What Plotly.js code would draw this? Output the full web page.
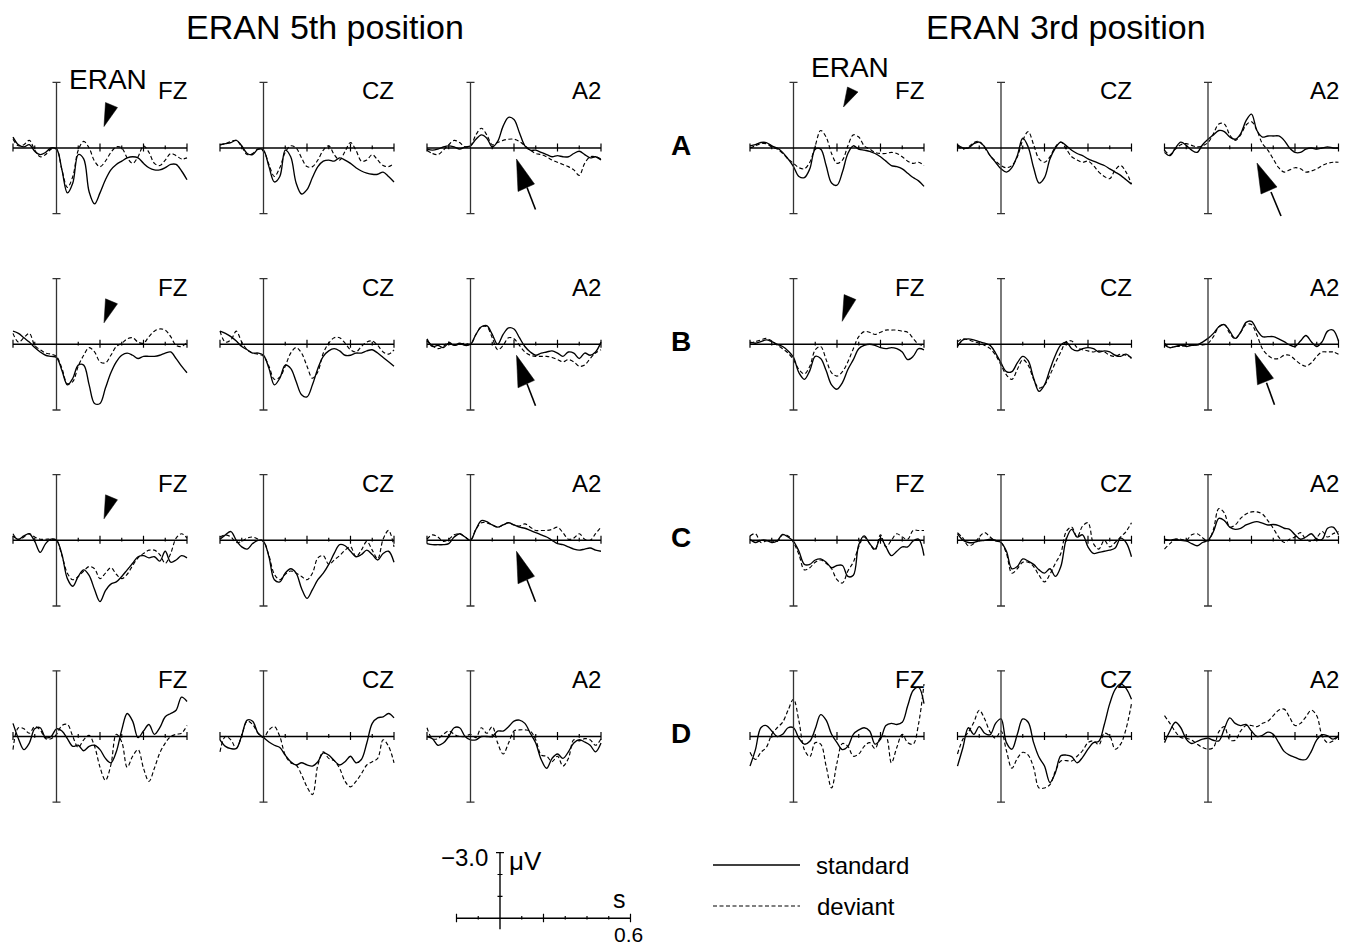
<!DOCTYPE html>
<html><head><meta charset="utf-8">
<script src="https://cdn.plot.ly/plotly-3.0.1.min.js"></script>
<style>html,body{margin:0;padding:0;background:#fff}#plot{width:1355px;height:949px}</style>
</head><body><div id="plot"></div>
<script>
// ---------------- DATA (µV, negative plotted up) ----------------
const TIME = [-0.2,-0.175,-0.15,-0.125,-0.1,-0.075,-0.05,-0.025,0,0.025,0.05,0.075,0.1,0.125,0.15,0.175,0.2,0.225,0.25,0.275,0.3,0.325,0.35,0.375,0.4,0.425,0.45,0.475,0.5,0.525,0.55,0.575,0.6];
const ROW_LABELS = ['A','B','C','D'];
const CHANNELS = ['FZ','CZ','A2'];
const GROUP_TITLES = ['ERAN 5th position','ERAN 3rd position'];
const LEGEND_LABELS = ['standard','deviant'];
const SCALE_LABELS = ['\u22123.0','\u03bcV','s','0.6'];
const X_TICKS = [-0.2,-0.1,0.1,0.2,0.3,0.4,0.5,0.6];
const X_TICKS_MAJOR = [-0.2,0.2,0.4,0.6];

// 5th position
const A5_FZ_std = [-0.5,-0.15,-0.05,-0.15,0.15,0.3,0.2,0,0.05,1.0,2.05,1.6,0.3,0.5,2.0,2.55,2.05,1.45,1.0,0.75,0.6,0.45,0.4,0.45,0.7,0.9,1.0,1.0,0.9,0.75,0.75,1.05,1.45];
const A5_FZ_dev = [-0.4,-0.1,-0.15,-0.35,0.1,0.4,0.3,0.05,0.05,1.0,1.8,1.3,0.1,-0.3,0,0.6,0.85,0.6,0.2,-0.05,0,0.45,0.7,0.4,-0.1,0.2,0.7,0.8,0.55,0.25,0.35,0.5,0.45];
const A5_CZ_std = [-0.15,-0.2,-0.25,-0.35,-0.1,0.25,0.3,0.05,0.1,0.85,1.55,1.3,0.1,0.4,1.6,2.1,1.9,1.35,0.85,0.6,0.55,0.6,0.45,0.55,0.7,0.9,1.05,1.15,1.2,1.2,1.1,1.3,1.55];
const A5_CZ_dev = [-0.15,-0.2,-0.3,-0.35,-0.05,0.3,0.25,0.05,0.15,0.75,1.3,0.9,0.2,-0.1,0,0.45,0.85,0.85,0.55,0.1,-0.1,0.3,0.55,0.15,-0.25,0.1,0.6,0.55,0.3,0.55,0.8,0.85,0.7];
const A5_A2_std = [0.05,0.1,0.05,-0.05,-0.1,-0.05,0.05,-0.05,-0.1,-0.4,-0.6,-0.45,-0.05,-0.3,-1.0,-1.4,-1.3,-0.7,-0.1,0.1,0.1,0.2,0.3,0.4,0.35,0.4,0.4,0.25,0.15,0.3,0.45,0.4,0.55];
const A5_A2_dev = [0.1,0.25,0.3,0.1,-0.15,-0.35,-0.25,-0.05,-0.1,-0.6,-0.9,-0.6,-0.15,-0.25,-0.35,-0.4,-0.4,-0.3,-0.1,0.1,0.25,0.3,0.4,0.55,0.65,0.75,0.85,1.0,1.25,0.7,0.4,0.4,0.5];
const B5_FZ_std = [-0.6,-0.5,-0.3,-0.1,0.15,0.35,0.5,0.55,0.6,1.2,1.85,1.55,0.95,0.95,1.85,2.7,2.7,2.0,1.3,0.8,0.5,0.4,0.5,0.65,0.55,0.55,0.55,0.5,0.4,0.35,0.65,1.0,1.3];
const B5_FZ_dev = [-0.5,-0.1,-0.3,-0.5,0.05,0.25,0.4,0.45,0.55,1.1,1.8,1.7,1.0,0.5,0.15,0.35,0.8,0.85,0.5,0.1,-0.05,-0.25,-0.3,-0.1,-0.05,-0.35,-0.6,-0.7,-0.65,-0.35,0.05,0.1,-0.1];
const B5_CZ_std = [-0.6,-0.5,-0.35,-0.15,0.1,0.25,0.4,0.4,0.5,1.1,1.85,1.55,0.95,1.1,1.7,2.3,2.4,1.85,1.1,0.55,0.3,0.2,0.3,0.5,0.5,0.4,0.4,0.3,0.25,0.4,0.6,0.8,1.0];
const B5_CZ_dev = [-0.6,-0.1,-0.2,-0.6,-0.1,0.25,0.4,0.45,0.55,1.0,1.6,1.5,1.0,0.4,0.15,0.4,1.0,1.55,1.25,0.4,-0.05,-0.3,-0.3,-0.05,0.25,0.35,0.1,-0.1,-0.15,0.05,0.35,0.45,0.25];
const B5_A2_std = [-0.25,0.1,0.05,0.15,-0.05,0.05,-0.05,0.05,0,-0.45,-0.8,-0.85,-0.45,0,-0.45,-0.75,-0.7,-0.3,0.1,0.35,0.5,0.4,0.35,0.3,0.4,0.55,0.35,0.4,0.65,0.4,0.5,0.35,-0.1];
const B5_A2_dev = [-0.15,0.05,0.2,0.1,-0.1,0.05,0,-0.05,0,-0.45,-0.8,-0.8,-0.3,0.25,0.05,-0.3,-0.25,0.05,0.35,0.5,0.55,0.55,0.55,0.6,0.7,0.8,0.7,0.8,1.0,0.95,0.65,0.4,0.25];
const C5_FZ_std = [-0.2,-0.05,-0.2,-0.3,0.05,0.55,0.15,-0.05,0,0.65,1.75,2.1,1.65,1.35,1.6,2.25,2.8,2.3,2.0,1.9,1.65,1.35,1.05,0.75,0.7,0.8,0.75,0.95,0.5,1.0,0.9,0.7,0.8];
const C5_FZ_dev = [-0.3,0,-0.15,-0.3,-0.15,-0.05,-0.05,-0.05,0,0.7,1.5,1.8,1.65,1.4,1.2,1.3,1.75,1.5,1.25,1.55,1.75,1.55,1.15,0.8,0.6,0.45,0.45,0.65,1.05,0.6,-0.1,-0.3,-0.1];
const C5_CZ_std = [-0.05,-0.25,-0.4,0,0.3,0.4,0.15,0,0.05,0.75,1.8,1.9,1.5,1.3,1.5,2.2,2.65,2.25,1.8,1.5,1.1,0.6,0.2,0.25,0.5,0.75,0.65,0.45,0.65,0.9,0.6,0.5,1.0];
const C5_CZ_dev = [-0.15,-0.25,-0.15,0.1,0.05,-0.1,-0.15,-0.05,0.05,0.7,1.55,1.8,1.55,1.4,1.5,1.65,1.8,1.5,0.8,0.7,1.1,0.9,0.7,0.45,0.3,0.75,0.45,0.05,0.45,0.85,-0.05,-0.45,0.3];
const C5_A2_std = [0.15,0.2,0.2,0.2,0.15,-0.15,-0.3,-0.15,0,-0.5,-0.9,-0.85,-0.7,-0.6,-0.7,-0.8,-0.7,-0.6,-0.55,-0.45,-0.35,-0.25,-0.15,0,0.15,0.2,0.3,0.4,0.45,0.4,0.35,0.45,0.5];
const C5_A2_dev = [-0.05,-0.25,-0.15,0.05,-0.05,-0.25,-0.3,-0.15,0,-0.5,-0.8,-0.8,-0.7,-0.6,-0.7,-0.8,-0.7,-0.65,-0.75,-0.6,-0.45,-0.45,-0.45,-0.5,-0.6,-0.35,-0.05,-0.1,-0.3,-0.05,0,-0.3,-0.6];
const D5_FZ_std = [-0.6,0.1,0.6,0.3,-0.35,-0.4,0.05,0,-0.35,-0.25,0.1,0.45,0.4,0.65,0.45,0.4,0.6,1.0,1.2,0.7,-0.3,-1.05,-0.7,0.05,-0.25,-0.55,-0.1,-0.4,-0.9,-1.05,-1.2,-1.8,-1.6];
const D5_FZ_dev = [0.6,-0.4,-0.35,-0.15,-0.45,-0.3,0.1,0.1,-0.1,-0.5,-0.55,0,0.5,0.15,-0.05,0.45,1.4,2.0,1.3,-0.1,0.25,1.4,0.9,0.6,1.45,2.05,1.45,0.75,0.3,0,-0.1,-0.15,-0.5];
const D5_CZ_std = [0.15,0.45,0.55,0.55,-0.05,-0.75,-0.7,-0.15,0.05,0.25,0.4,0.5,0.85,1.15,1.3,1.2,1.3,1.35,1.15,0.75,0.85,1.1,1.3,1.15,0.9,1.2,1.05,0.3,-0.6,-0.85,-0.9,-1.05,-0.85];
const D5_CZ_dev = [0.7,0,0.15,0.55,-0.05,-0.7,-0.55,-0.15,0.05,-0.3,-0.45,0,0.85,1.2,1.3,1.75,2.3,2.65,1.3,0.7,1.0,1.1,1.45,2.05,2.3,2.05,1.7,1.3,1.15,1.0,0.15,0.45,1.2];
const D5_A2_std = [0,0.1,0.4,0.3,0,-0.4,-0.4,0,0.15,0.15,0,0,0,-0.25,-0.25,-0.45,-0.7,-0.75,-0.6,-0.15,0.3,1.05,1.45,1.0,0.8,1.0,0.7,0.3,0.15,0.25,0.4,0.7,0.3];
const D5_A2_dev = [-0.4,0.1,0.1,-0.1,-0.25,-0.1,0,0,-0.1,0.05,-0.4,-0.15,-0.45,0.3,0.8,0.3,-0.25,-0.3,-0.3,-0.25,0.15,0.85,0.9,1.15,0.9,1.35,1.0,0.15,0.2,0.1,0.15,0.4,0.1];

// 3rd position
const A3_FZ_std = [-0.1,-0.15,-0.25,-0.25,-0.1,0,0.2,0.5,0.85,1.3,1.35,0.95,0.05,0.05,0.8,1.6,1.7,1.1,0.25,-0.1,0.05,0.1,0.15,0.25,0.4,0.6,0.8,0.85,0.95,1.15,1.35,1.5,1.75];
const A3_FZ_dev = [0,-0.1,-0.2,-0.2,-0.05,0.05,0.25,0.5,0.7,0.9,0.95,0.65,-0.1,-0.8,-0.5,0.25,0.7,0.55,-0.1,-0.6,-0.5,-0.1,0.05,0.2,0.25,0.25,0.2,0.25,0.4,0.6,0.7,0.65,0.8];
const A3_CZ_std = [-0.15,0,0,-0.2,-0.27,-0.05,0.35,0.65,0.95,1.1,0.9,0.35,-0.45,-0.05,0.9,1.6,1.35,0.5,0,-0.27,-0.1,0.1,0.25,0.35,0.5,0.6,0.7,0.8,0.95,1.1,1.25,1.45,1.65];
const A3_CZ_dev = [-0.1,0.05,-0.05,-0.25,-0.3,0,0.35,0.6,0.8,0.9,0.8,0.4,-0.35,-0.75,-0.15,0.5,0.65,0.4,-0.05,-0.27,0.05,0.4,0.55,0.65,0.6,0.8,1.1,1.3,1.4,1.0,0.8,1.1,1.65];
const A3_A2_std = [0.2,0.35,0,-0.27,-0.12,0.1,0.2,-0.15,-0.4,-0.6,-0.8,-0.75,-0.5,-0.4,-0.65,-1.25,-1.55,-0.8,-0.5,-0.55,-0.55,-0.55,-0.35,0,0.2,0.2,0.05,0,0.05,0,-0.05,0,0];
const A3_A2_dev = [0.1,0.3,0.05,-0.15,-0.2,-0.12,-0.05,-0.1,-0.25,-0.65,-1.1,-1.1,-0.6,-0.35,-0.6,-1.05,-1.2,-0.8,-0.2,0.1,0.5,0.9,1.1,1.0,0.9,0.95,1.1,1.05,0.95,0.8,0.7,0.65,0.65];
const B3_FZ_std = [-0.1,-0.05,-0.12,-0.2,-0.12,0,0.1,0.3,0.6,1.3,1.6,1.2,0.55,0.65,1.2,1.85,2.05,1.75,1.15,0.7,0.2,0.05,0,0.05,0.15,0.2,0.15,0.2,0.35,0.7,0.55,0.2,0.25];
const B3_FZ_dev = [-0.05,-0.12,-0.2,-0.27,-0.15,0.03,0.2,0.4,0.7,1.15,1.35,1.0,0.25,0.1,0.7,1.3,1.45,1.25,0.8,0.2,-0.35,-0.58,-0.55,-0.45,-0.55,-0.65,-0.65,-0.65,-0.6,-0.55,-0.27,0,0.05];
const B3_CZ_std = [0.1,-0.2,-0.25,-0.2,-0.12,-0.05,0.05,0.4,0.85,1.25,1.25,0.85,0.55,0.75,1.55,2.15,1.85,1.15,0.5,0.03,-0.1,0.2,0.3,0.2,0.15,0.2,0.35,0.3,0.35,0.5,0.55,0.45,0.65];
const B3_CZ_dev = [-0.12,-0.25,-0.2,-0.12,-0.05,0.05,0.2,0.5,0.95,1.4,1.6,1.15,0.7,0.95,1.6,2.0,1.85,1.4,0.85,0.35,-0.12,-0.15,0.15,0.25,0.3,0.35,0.3,0.35,0.5,0.55,0.45,0.5,0.6];
const B3_A2_std = [0.03,0.15,0.1,0.03,0.1,0.05,0.03,-0.1,-0.27,-0.5,-0.8,-0.9,-0.6,-0.27,-0.55,-1.0,-1.05,-0.65,-0.35,-0.35,-0.35,-0.25,-0.12,0.03,0.1,-0.15,-0.4,-0.12,0.1,-0.12,-0.6,-0.65,-0.15];
const B3_A2_dev = [-0.05,0.15,0.1,0.1,0.05,0.05,0.03,0.03,-0.05,-0.35,-0.8,-0.9,-0.5,-0.25,-0.55,-0.9,-0.9,-0.42,0.2,0.5,0.65,0.65,0.5,0.5,0.7,0.9,1.0,0.85,0.55,0.35,0.35,0.35,0.45];
const C3_FZ_std = [-0.05,0.1,0,0,0.1,0.03,-0.27,-0.15,0.05,0.5,1.1,1.1,0.9,0.85,1.0,1.25,1.15,1.15,1.65,1.6,0.2,-0.2,0.15,0.4,-0.1,0.3,0.7,0.5,0.3,0.3,0.03,-0.05,0.7];
const C3_FZ_dev = [-0.2,-0.3,0.1,0.03,0.03,0.05,-0.25,-0.2,0.1,0.65,1.35,1.25,1.0,0.9,1.05,1.3,1.8,1.95,1.4,1.0,0.3,-0.15,0.15,0.45,-0.25,0.3,0,-0.3,-0.15,-0.05,-0.45,-0.45,-0.45];
const C3_CZ_std = [-0.3,0,0.1,0.1,0.03,0,-0.05,0,0.1,0.5,1.3,1.2,0.85,0.95,1.1,1.35,1.5,1.3,1.65,1.2,-0.05,-0.5,-0.15,-0.25,0.3,0.6,0.55,0.5,0.45,0.35,-0.1,0.1,0.75];
const C3_CZ_dev = [-0.35,-0.1,0.25,0.15,-0.15,-0.35,-0.15,0.03,0.1,0.6,1.5,1.3,1.0,1.0,1.2,1.6,1.9,1.55,1.05,0.6,-0.4,-0.6,-0.15,-0.65,-0.8,0.15,0.4,0,0.3,0.1,-0.15,-0.4,-0.8];
const C3_A2_std = [-0.05,0,-0.05,0,0.03,0.15,0.25,0.1,0,-0.4,-1.0,-0.9,-0.6,-0.5,-0.55,-0.7,-0.8,-0.85,-0.78,-0.7,-0.72,-0.67,-0.55,-0.5,-0.25,-0.05,-0.15,-0.3,-0.05,-0.05,-0.55,-0.6,-0.25];
const C3_A2_dev = [0.4,0.15,-0.05,-0.05,0,-0.25,-0.3,-0.12,0.05,-0.5,-1.45,-1.25,-0.6,-0.7,-1.0,-1.2,-1.3,-1.3,-1.2,-0.9,-0.55,-0.15,0.1,-0.05,-0.15,-0.35,-0.05,0.05,-0.12,-0.4,-0.15,-0.3,-0.4];
const D3_FZ_std = [1.35,0.6,-0.4,-0.5,-0.25,0,-0.1,-0.4,-0.4,0.08,0.35,0.22,-0.35,-1.0,-0.75,-0.1,0.28,0.6,0.45,-0.1,-0.3,-0.4,-0.25,0.35,0.12,-0.5,-0.6,-0.55,-0.65,-1.4,-2.1,-2.25,-1.5];
const D3_FZ_dev = [0.72,1.05,0.72,0.5,-0.1,-0.4,-0.65,-1.2,-1.7,-0.7,0.6,0.92,0.28,0.35,1.35,2.35,1.2,0.32,0.45,0.9,0.8,0.45,0.28,0.55,0.05,0,1.2,0.5,-0.1,0.28,0.35,-0.58,-2.4];
const D3_CZ_std = [1.35,0.5,-0.4,-0.1,-0.45,-0.15,-0.08,-0.6,-0.8,0.28,0.58,-0.1,-0.8,-0.65,0.28,0.95,1.35,2.1,1.65,0.88,0.85,0.92,1.2,0.95,0.58,0.28,0.22,-0.55,-1.5,-2.15,-2.4,-2.2,-1.7];
const D3_CZ_dev = [0.8,0.12,-0.2,-0.65,-1.2,-0.8,-0.2,0.08,-0.25,0.65,1.45,1.0,0.72,0.85,1.42,2.35,2.35,2.2,1.58,1.12,1.1,1.12,0.9,0.65,0.28,0.2,0.38,-0.15,-0.02,0.58,0.35,-0.35,-1.5];
const D3_A2_std = [0.28,-0.25,-0.65,-0.4,0.12,0.32,0.22,0.12,0.08,0.17,0.2,-0.35,-0.85,-0.6,-0.5,-0.55,-0.25,0,-0.05,-0.2,-0.1,0.28,0.68,0.85,0.95,1.05,1.05,0.68,0.15,-0.08,-0.03,0.12,-0.03];
const D3_A2_dev = [-0.95,-0.6,-0.22,0.05,0.08,0.17,0.35,0.5,0.58,0.5,-0.22,-0.45,0.15,0.17,-0.25,-0.5,-0.5,-0.45,-0.6,-0.7,-0.95,-1.2,-1.25,-0.88,-0.5,-0.6,-0.9,-1.2,-0.95,-0.03,0.28,0.2,-0.03];

// panel grid: [row][column] -> [standard, deviant]; columns 0-2: 5th position, 3-5: 3rd position
const PANEL_SERIES = [
  [[A5_FZ_std,A5_FZ_dev],[A5_CZ_std,A5_CZ_dev],[A5_A2_std,A5_A2_dev],[A3_FZ_std,A3_FZ_dev],[A3_CZ_std,A3_CZ_dev],[A3_A2_std,A3_A2_dev]],
  [[B5_FZ_std,B5_FZ_dev],[B5_CZ_std,B5_CZ_dev],[B5_A2_std,B5_A2_dev],[B3_FZ_std,B3_FZ_dev],[B3_CZ_std,B3_CZ_dev],[B3_A2_std,B3_A2_dev]],
  [[C5_FZ_std,C5_FZ_dev],[C5_CZ_std,C5_CZ_dev],[C5_A2_std,C5_A2_dev],[C3_FZ_std,C3_FZ_dev],[C3_CZ_std,C3_CZ_dev],[C3_A2_std,C3_A2_dev]],
  [[D5_FZ_std,D5_FZ_dev],[D5_CZ_std,D5_CZ_dev],[D5_A2_std,D5_A2_dev],[D3_FZ_std,D3_FZ_dev],[D3_CZ_std,D3_CZ_dev],[D3_A2_std,D3_A2_dev]]
];

// ---------------- LAYOUT GEOMETRY ----------------
const W = 1355, H = 949;
const AXIS_X = [56.5, 263.5, 470.5, 793.5, 1001, 1208];
const BASE_Y = [148, 344.3, 540.3, 736.5];
const PPS = 217.5, PPU = 21.9;
const XR = [-0.215, 0.615], YR = [3.4, -3.4];
const FONT = 'Liberation Sans, Arial, Helvetica, sans-serif';
const SOLID = {color:'#000', width:1.35, shape:'spline', smoothing:1};
const DASHED = {color:'#000', width:1.15, shape:'spline', smoothing:1, dash:'4px,2.5px'};

const px = x => x / W, py = y => 1 - y / H;
const layout = {
  width: W, height: H, margin: {l:0, r:0, t:0, b:0, pad:0},
  paper_bgcolor:'#fff', plot_bgcolor:'rgba(0,0,0,0)', showlegend:false,
  shapes: [], annotations: [], font:{family:FONT, color:'#000'}
};
const data = [];
let n = 0;

function addAxes(ax, by, yr) {
  yr = yr || YR;
  n += 1;
  const id = n === 1 ? '' : String(n);
  layout['xaxis' + id] = {domain:[px(ax + XR[0]*PPS), px(ax + XR[1]*PPS)], range:XR, visible:false, anchor:'y'+id, fixedrange:true};
  layout['yaxis' + id] = {domain:[py(by + yr[0]*PPU), py(by + yr[1]*PPU)], range:yr, visible:false, anchor:'x'+id, fixedrange:true};
  return {x:'x'+id, y:'y'+id};
}
function seg(ref, x0, y0, x1, y1, color, width) {
  layout.shapes.push({type:'line', xref:ref.x, yref:ref.y, x0, y0, x1, y1, line:{color, width}});
}
function tri(points) {
  const p = points.map((q,i) => (i ? 'L' : 'M') + px(q[0]).toFixed(5) + ',' + py(q[1]).toFixed(5)).join(' ') + ' Z';
  layout.shapes.push({type:'path', xref:'paper', yref:'paper', path:p, fillcolor:'#000', line:{color:'#000', width:0.5}});
}
function text(t, x, y, size, xanchor, yanchor) {
  layout.annotations.push({text:t, x:px(x), y:py(y), xref:'paper', yref:'paper', showarrow:false,
    xanchor:xanchor||'center', yanchor:yanchor||'middle', font:{family:FONT, size, color:'#000'}});
}

const capX = 4 / PPS;
for (let r = 0; r < 4; r++) {
  for (let c = 0; c < 6; c++) {
    const ax = AXIS_X[c], by = BASE_Y[r];
    const ref = addAxes(ax, by);
    seg(ref, 0, -3, 0, 3, '#333', 1.3);
    seg(ref, -capX, -3, capX, -3, '#333', 1.3);
    seg(ref, -capX, 3, capX, 3, '#333', 1.3);
    seg(ref, -0.2, 0, 0.6, 0, '#000', 1.5);
    X_TICKS.forEach(t => {
      const major = X_TICKS_MAJOR.includes(t);
      seg(ref, t, major ? -4.5/PPU : -2.6/PPU, t, major ? 3.5/PPU : 1.2/PPU, '#000', 1.2);
    });
    const [std, dev] = PANEL_SERIES[r][c];
    data.push({x:TIME, y:dev, type:'scatter', mode:'lines', line:DASHED, xaxis:ref.x, yaxis:ref.y, hoverinfo:'skip'});
    data.push({x:TIME, y:std, type:'scatter', mode:'lines', line:SOLID, xaxis:ref.x, yaxis:ref.y, hoverinfo:'skip'});
    text(CHANNELS[c % 3], ax + 0.6*PPS + 2, by - 57, 24, 'right', 'middle');
  }
  text('<b>' + ROW_LABELS[r] + '</b>', 681, BASE_Y[r] - 3, 28);
}

// ERAN markers (small filled triangles) in FZ panels
const ERAN_TRI_LEFT = [[49,-45.5],[61,-40.5],[47.5,-21.5]];
[0,1,2].forEach(r => tri(ERAN_TRI_LEFT.map(q => [AXIS_X[0]+q[0], BASE_Y[r]+q[1]])));
tri([[54,-61],[64.5,-56],[50,-41]].map(q => [AXIS_X[3]+q[0], BASE_Y[0]+q[1]]));
tri([[50.6,-49.7],[62.4,-44.7],[48.7,-23]].map(q => [AXIS_X[3]+q[0], BASE_Y[1]+q[1]]));
text('ERAN', 108, 80, 28);
text('ERAN', 850, 67, 28);

// big arrows in A2 panels
function bigArrow(ax, by, tip, c1, c2, t0, t1) {
  tri([tip, c1, c2].map(q => [ax+q[0], by+q[1]]));
  layout.shapes.push({type:'line', xref:'paper', yref:'paper', x0:px(ax+t0[0]), y0:py(by+t0[1]), x1:px(ax+t1[0]), y1:py(by+t1[1]), line:{color:'#000', width:1.6}});
}
[0,1,2].forEach(r => bigArrow(AXIS_X[2], BASE_Y[r], [46,11], [47.5,43.5], [64,36], [56.5,39.5], [65,61.5]));
bigArrow(AXIS_X[5], BASE_Y[0], [49,15], [53,46], [69,39], [63,44], [73,68]);
bigArrow(AXIS_X[5], BASE_Y[1], [47,9], [49.5,40.5], [65.5,34], [58.5,38.5], [66.5,60.5]);

// group titles
text(GROUP_TITLES[0], 325, 27, 34);
text(GROUP_TITLES[1], 1066, 27, 34);

// scale bar
const sref = addAxes(500, 918.3, [0.8, -3.4]);
seg(sref, -0.2, 0, 0.6, 0, '#000', 1.5);
seg(sref, 0, -3, 0, 0.5, '#000', 1.4);
seg(sref, -capX, -3, capX, -3, '#000', 1.3);
[-1,-2].forEach(v => seg(sref, -2.5/PPS, v, 2.5/PPS, v, '#000', 1.2));
[-0.2,-0.1,0.1,0.2,0.3,0.4,0.5,0.6].forEach(t => {
  const major = [-0.2,0.2,0.6].includes(t);
  seg(sref, t, major ? -4.5/PPU : -2.2/PPU, t, major ? 4/PPU : 1.2/PPU, '#000', 1.2);
});
text(SCALE_LABELS[0], 490, 857, 24, 'right', 'middle');
text(SCALE_LABELS[1], 507, 861, 26, 'left', 'middle');
text(SCALE_LABELS[2], 619, 899, 25, 'center', 'middle');
text(SCALE_LABELS[3], 628, 934, 21, 'center', 'middle');

// legend
layout.shapes.push({type:'line', xref:'paper', yref:'paper', x0:px(713), x1:px(800), y0:py(865), y1:py(865), line:{color:'#000', width:1.3}});
layout.shapes.push({type:'line', xref:'paper', yref:'paper', x0:px(713), x1:px(800), y0:py(906), y1:py(906), line:{color:'#000', width:1.1, dash:'4px,2.5px'}});
text(LEGEND_LABELS[0], 814, 865, 24, 'left', 'middle');
text(LEGEND_LABELS[1], 815, 906, 24, 'left', 'middle');

Plotly.newPlot('plot', data, layout, {staticPlot:true, displayModeBar:false});
</script>
</body></html>
